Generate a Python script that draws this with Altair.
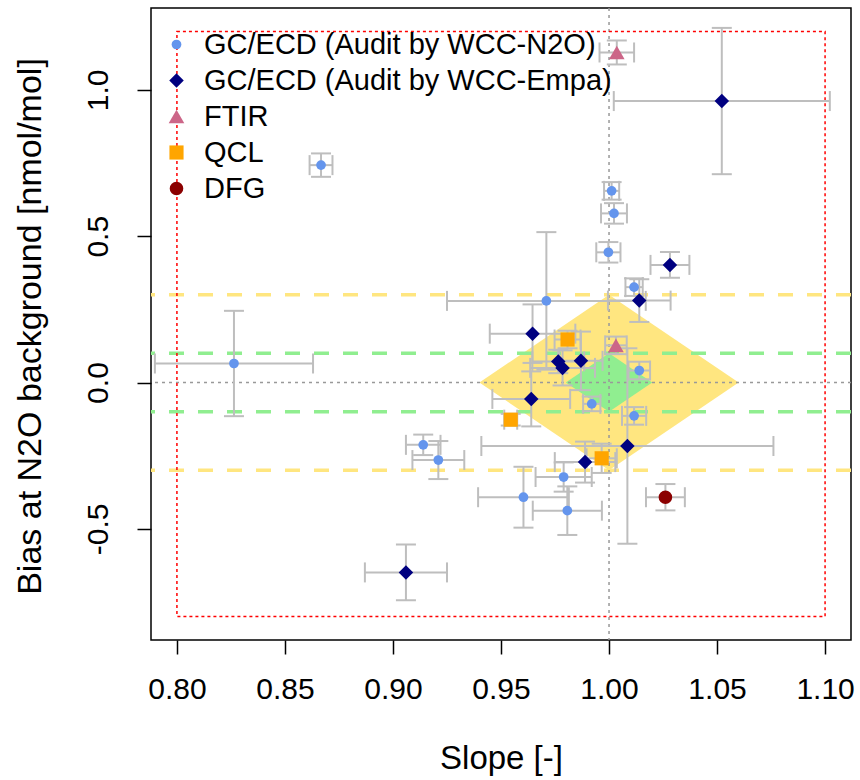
import altair as alt
import pandas as pd

FONT = "Liberation Sans"

groups = ["GC/ECD (Audit by WCC-N2O)", "GC/ECD (Audit by WCC-Empa)", "FTIR", "QCL", "DFG"]
colors = ["#6495ED", "#000080", "#CC6688", "#FFA500", "#8B0000"]
shapes = ["circle", "diamond", "triangle-up", "square", "circle"]
sizes = [95, 210, 245, 200, 185]

n2o_slope = [0.8667, 0.8264, 0.914, 0.921, 1.0012, 1.0023, 0.9997, 1.0116, 0.971, 1.014, 0.992, 1.0116, 0.979, 0.9604, 0.9807]
n2o_bias = [0.743, 0.065, -0.213, -0.265, 0.655, 0.578, 0.445, 0.326, 0.279, 0.041, -0.073, -0.114, -0.323, -0.392, -0.438]
n2o_sx = [0.0053, 0.0366, 0.008, 0.012, 0.0035, 0.006, 0.0056, 0.004, 0.046, 0.005, 0.004, 0.0056, 0.013, 0.021, 0.016]
n2o_sy = [0.040, 0.180, 0.035, 0.065, 0.030, 0.035, 0.035, 0.030, 0.235, 0.030, 0.025, 0.030, 0.050, 0.104, 0.083]

empa_slope = [1.0522, 1.0282, 1.014, 0.9646, 0.9765, 0.9785, 0.987, 0.964, 1.0085, 0.9889, 0.906]
empa_bias = [0.962, 0.402, 0.28, 0.167, 0.072, 0.05, 0.074, -0.056, -0.217, -0.272, -0.649]
empa_sx = [0.050, 0.009, 0.0145, 0.0198, 0.012, 0.015, 0.010, 0.018, 0.0676, 0.014, 0.019]
empa_sy = [0.25, 0.044, 0.073, 0.10, 0.04, 0.06, 0.10, 0.094, 0.334, 0.07, 0.095]

ftir_slope = [1.0036, 1.0032]
ftir_bias = [1.128, 0.127]
ftir_sx = [0.008, 0.005]
ftir_sy = [0.041, 0.03]

qcl_slope = [0.9808, 0.9545, 0.9966]
qcl_bias = [0.147, -0.127, -0.259]
qcl_sx = [0.006, 0.003, 0.007]
qcl_sy = [0.03, 0.02, 0.05]

dfg_slope = [1.0261]
dfg_bias = [-0.392]
dfg_sx = [0.009]
dfg_sy = [0.045]

# target zones (diamonds) and limits
yellow_x = [0.94, 1.0, 1.06]
yellow_hi = [0.0, 0.3, 0.0]
yellow_lo = [0.0, -0.3, 0.0]
green_x = [0.98, 1.0, 1.02]
green_hi = [0.0, 0.1, 0.0]
green_lo = [0.0, -0.1, 0.0]
yellow_lines = [0.3, -0.3]
green_lines = [0.1, -0.1]
box_x = [0.8, 1.1]
box_y = [-0.8, 1.2]

x_ticks = [0.80, 0.85, 0.90, 0.95, 1.00, 1.05, 1.10]
y_ticks = [-0.5, 0.0, 0.5, 1.0]

rows = []
for g, s, b, sx, sy in [
    (groups[0], n2o_slope, n2o_bias, n2o_sx, n2o_sy),
    (groups[1], empa_slope, empa_bias, empa_sx, empa_sy),
    (groups[2], ftir_slope, ftir_bias, ftir_sx, ftir_sy),
    (groups[3], qcl_slope, qcl_bias, qcl_sx, qcl_sy),
    (groups[4], dfg_slope, dfg_bias, dfg_sx, dfg_sy),
]:
    for i in range(len(s)):
        rows.append(dict(group=g, slope=s[i], bias=b[i], sx=sx[i], sy=sy[i]))
df = pd.DataFrame(rows)
df["xlo"] = df.slope - df.sx
df["xhi"] = df.slope + df.sx
df["ylo"] = df.bias - df.sy
df["yhi"] = df.bias + df.sy

XS = alt.Scale(domain=[0.788, 1.112], nice=False, zero=False)
YS = alt.Scale(domain=[-0.88, 1.28], nice=False, zero=False)

xaxis = alt.Axis(values=x_ticks, format=".2f", grid=False, domain=False,
                 tickSize=14, tickWidth=1.5, tickColor="black",
                 labelFont=FONT, labelFontSize=30, labelColor="black", labelPadding=20,
                 title="Slope [-]", titleFont=FONT, titleFontSize=33, titleFontWeight="normal",
                 titleColor="black", titleX=350, titleY=118, titleBaseline="middle")
yaxis = alt.Axis(values=y_ticks, grid=False, domain=False,
                 labelExpr="replace(format(datum.value, '.1f'), '\u2212', '-')",
                 tickSize=14, tickWidth=1.5, tickColor="black",
                 labelFont=FONT, labelFontSize=30, labelColor="black", labelPadding=24,
                 labelAngle=270, labelAlign="center", labelBaseline="bottom",
                 title="Bias at N2O background [nmol/mol]", titleFont=FONT, titleFontSize=34,
                 titleFontWeight="normal", titleColor="black", titleAngle=270,
                 titleX=-121, titleY=318, titleBaseline="middle")


def X(f):
    return alt.X(f, type="quantitative", scale=XS, axis=xaxis)


def Y(f):
    return alt.Y(f, type="quantitative", scale=YS, axis=yaxis)


ydf = pd.DataFrame(dict(x=yellow_x, hi=yellow_hi, lo=yellow_lo))
gdf = pd.DataFrame(dict(x=green_x, hi=green_hi, lo=green_lo))
yellow = alt.Chart(ydf).mark_area(color="#FFE680", opacity=1, interpolate="linear").encode(
    x=X("x"), y=Y("hi"), y2="lo")
green = alt.Chart(gdf).mark_area(color="#90EE90", opacity=1, interpolate="linear").encode(
    x=X("x"), y=Y("hi"), y2="lo")

ylines = alt.Chart(pd.DataFrame(dict(y=yellow_lines))).mark_rule(
    color="#FFE680", strokeWidth=3.5, strokeDash=[15, 14]).encode(y=Y("y"))
glines = alt.Chart(pd.DataFrame(dict(y=green_lines))).mark_rule(
    color="#90EE90", strokeWidth=3.5, strokeDash=[15, 14]).encode(y=Y("y"))

vline = alt.Chart(pd.DataFrame(dict(x=[1.0]))).mark_rule(
    color="#999999", strokeWidth=1.5, strokeDash=[3, 4]).encode(x=X("x"))
hline = alt.Chart(pd.DataFrame(dict(y=[0.0]))).mark_rule(
    color="#999999", strokeWidth=1.5, strokeDash=[3, 4]).encode(y=Y("y"))

box = alt.Chart(pd.DataFrame(dict(x=[box_x[0]], x2=[box_x[1]], y=[box_y[0]], y2=[box_y[1]]))).mark_rect(
    fillOpacity=0, stroke="red", strokeWidth=1.5, strokeDash=[3, 3]).encode(
    x=X("x"), x2="x2", y=Y("y"), y2="y2")

ebc = "#BEBEBE"
base = alt.Chart(df)
xerr = base.mark_rule(color=ebc, strokeWidth=2).encode(x=X("xlo"), x2="xhi", y=Y("bias"))
yerr = base.mark_rule(color=ebc, strokeWidth=2).encode(y=Y("ylo"), y2="yhi", x=X("slope"))
cap_xlo = base.mark_tick(color=ebc, thickness=2, size=20, orient="vertical", opacity=1).encode(x=X("xlo"), y=Y("bias"))
cap_xhi = base.mark_tick(color=ebc, thickness=2, size=20, orient="vertical", opacity=1).encode(x=X("xhi"), y=Y("bias"))
cap_ylo = base.mark_tick(color=ebc, thickness=2, size=20, orient="horizontal", opacity=1).encode(x=X("slope"), y=Y("ylo"))
cap_yhi = base.mark_tick(color=ebc, thickness=2, size=20, orient="horizontal", opacity=1).encode(x=X("slope"), y=Y("yhi"))

legend = alt.Legend(title=None, orient="none", legendX=11, legendY=22, padding=0,
                    labelFont=FONT, labelFontSize=29, labelColor="black", labelOffset=13,
                    rowPadding=6, labelLimit=600)
points = base.mark_point(filled=True, opacity=1, strokeWidth=0).encode(
    x=X("slope"), y=Y("bias"),
    color=alt.Color("group:N", scale=alt.Scale(domain=groups, range=colors), legend=legend),
    shape=alt.Shape("group:N", scale=alt.Scale(domain=groups, range=shapes), legend=legend),
    size=alt.Size("group:N", scale=alt.Scale(type="ordinal", domain=groups, range=sizes), legend=legend),
)

chart = alt.layer(
    yellow, green, ylines, glines, vline, hline, box,
    xerr, yerr, cap_xlo, cap_xhi, cap_ylo, cap_yhi, points
).properties(
    width=700, height=632,
    padding={"left": 151, "top": 8, "right": 9, "bottom": 140},
    autosize=alt.AutoSizeParams(type="none"),
    background="white",
).configure_view(stroke="black", strokeWidth=1.5)

chart.save("out.html", embed_options={"renderer": "svg", "actions": False})
